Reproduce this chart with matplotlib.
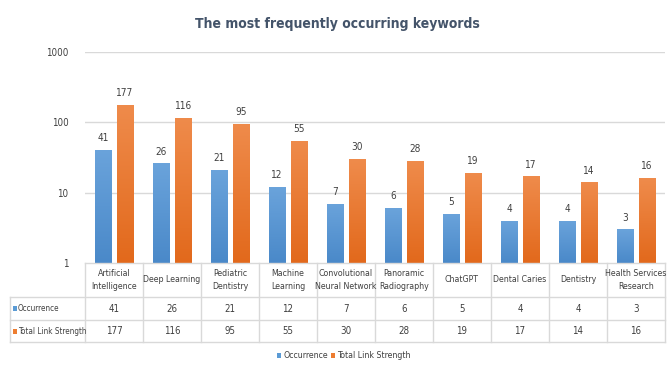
import numpy as np
import matplotlib
matplotlib.use("Agg")
import matplotlib.pyplot as plt
from matplotlib.colors import LinearSegmentedColormap
from matplotlib.patches import Rectangle
from matplotlib.lines import Line2D

plt.rcParams['font.family'] = ['DejaVu Sans']
plt.rcParams['font.stretch'] = 'condensed'

categories = ["Artificial\nIntelligence", "Deep Learning", "Pediatric\nDentistry", "Machine\nLearning",
              "Convolutional\nNeural Network", "Panoramic\nRadiography", "ChatGPT", "Dental Caries",
              "Dentistry", "Health Services\nResearch"]
occurrence = [41, 26, 21, 12, 7, 6, 5, 4, 4, 3]
link_strength = [177, 116, 95, 55, 30, 28, 19, 17, 14, 16]
series_names = ["Occurrence", "Total Link Strength"]
y_ticks = [1, 10, 100, 1000]

blue_top, blue_bot = "#6AA3DB", "#4A89C9"
orange_top, orange_bot = "#EF8B4B", "#E2691C"
blue_key, orange_key = "#5B9BD5", "#ED7D31"
text_col = "#404040"
grid_col = "#D9D9D9"

W, H = 668, 365
fig = plt.figure(figsize=(W / 100, H / 100), dpi=100)

def fx(px):
    return px / W

def fy(py):
    return 1 - py / H

ax_left, ax_right, ax_top, ax_bot = 85, 665, 52, 263
ax = fig.add_axes([fx(ax_left), fy(ax_bot), fx(ax_right - ax_left), (ax_bot - ax_top) / H])
ax.set_yscale('log')
ax.set_ylim(1, 1000)
n = len(categories)
ax.set_xlim(0, n)
ax.set_yticks(y_ticks)
ax.set_yticklabels([str(t) for t in y_ticks], fontsize=7, color=text_col)
ax.yaxis.set_minor_locator(matplotlib.ticker.NullLocator())
ax.tick_params(axis='y', length=0, pad=12)
ax.set_xticks([])
for s in ax.spines.values():
    s.set_visible(False)
for t in y_ticks[1:]:
    ax.axhline(t, color=grid_col, lw=1, zorder=0)

bw = 0.29
gap = 0.09
x = np.arange(n) + 0.5

def grad_bar(xc, val, top, bot):
    rect = ax.bar(xc, val - 1, width=bw, bottom=1, color=bot, zorder=2, linewidth=0)[0]
    cmap = LinearSegmentedColormap.from_list("g", [bot, top])
    grad = np.linspace(0, 1, 64).reshape(-1, 1)
    to_axes = ax.transData + ax.transAxes.inverted()
    a0 = to_axes.transform((xc - bw / 2, 1))
    a1 = to_axes.transform((xc + bw / 2, val))
    im = ax.imshow(grad, cmap=cmap, origin='lower', aspect='auto',
                   extent=(a0[0], a1[0], a0[1], a1[1]), transform=ax.transAxes, zorder=3)
    im.set_clip_path(rect)
    return rect

for i in range(n):
    xb = x[i] - (bw + gap) / 2
    xo = x[i] + (bw + gap) / 2
    grad_bar(xb, occurrence[i], blue_top, blue_bot)
    grad_bar(xo, link_strength[i], orange_top, orange_bot)
    ax.text(xb, occurrence[i] * 1.25, str(occurrence[i]), ha='center', va='bottom', fontsize=7.2, color=text_col)
    ax.text(xo, link_strength[i] * 1.25, str(link_strength[i]), ha='center', va='bottom', fontsize=7.2, color=text_col)

ax.set_xlim(0, n)
ax.set_ylim(1, 1000)

# data table under the plot
row_lines = [263, 297, 320, 342]
col_w = (ax_right - ax_left) / n
tbl_left = 10

def hline(y, x0, x1):
    fig.add_artist(Line2D([fx(x0), fx(x1)], [fy(y), fy(y)], color=grid_col, lw=1))

def vline(xp, y0, y1):
    fig.add_artist(Line2D([fx(xp), fx(xp)], [fy(y0), fy(y1)], color=grid_col, lw=1))

hline(263, ax_left, ax_right)
for y in row_lines[1:]:
    hline(y, tbl_left, ax_right)
vline(tbl_left, 297, 342)
for i in range(n + 1):
    vline(ax_left + i * col_w, 263, 342)

for i, c in enumerate(categories):
    cx = ax_left + (i + 0.5) * col_w
    fig.text(fx(cx), fy(280), c, ha='center', va='center', fontsize=6.3, color=text_col, linespacing=1.45)
    fig.text(fx(cx), fy(308.5), str(occurrence[i]), ha='center', va='center', fontsize=7, color=text_col)
    fig.text(fx(cx), fy(331), str(link_strength[i]), ha='center', va='center', fontsize=7, color=text_col)

for name, yc, col in [(series_names[0], 308.5, blue_key), (series_names[1], 331, orange_key)]:
    fig.add_artist(Rectangle((fx(13), fy(yc + 2.5)), fx(4), 5 / H, color=col, lw=0))
    fig.text(fx(18), fy(yc), name, ha='left', va='center', fontsize=5.9, color=text_col)

# legend
leg_y = 355
for xs, name, col in [(277, series_names[0], blue_key), (331, series_names[1], orange_key)]:
    fig.add_artist(Rectangle((fx(xs), fy(leg_y + 2.5)), fx(4), 5 / H, color=col, lw=0))
    fig.text(fx(xs + 6), fy(leg_y), name, ha='left', va='center', fontsize=6.3, color=text_col)

fig.text(fx(337), fy(24), "The most frequently occurring keywords", ha='center', va='center',
         fontsize=10, fontweight='bold', color="#44546A")

fig.savefig("out.png", dpi=100)
